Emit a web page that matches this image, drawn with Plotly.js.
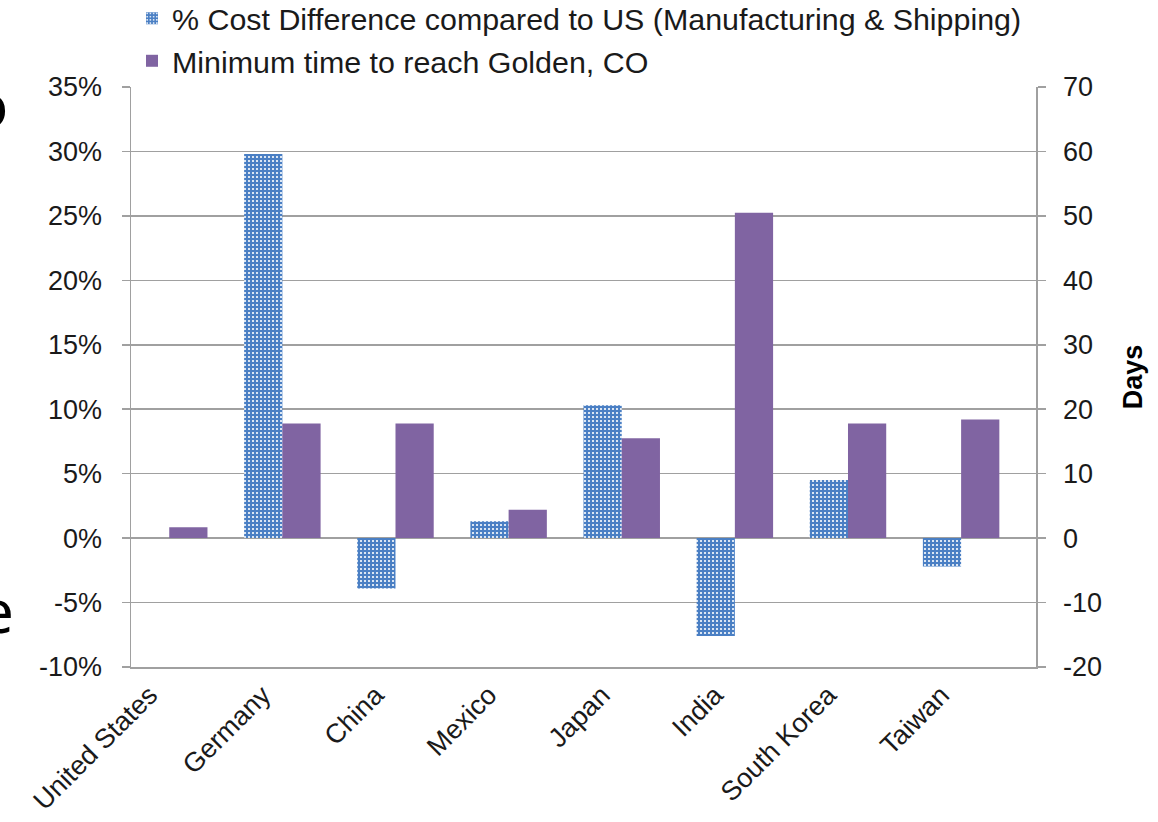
<!DOCTYPE html>
<html>
<head>
<meta charset="utf-8">
<script src="https://cdn.plot.ly/plotly-3.0.1.min.js"></script>
<style>
html,body{margin:0;padding:0;background:#fff;}
#chart{width:1158px;height:822px;}
</style>
</head>
<body>
<div id="chart"></div>
<script>
const categories = ["United States","Germany","China","Mexico","Japan","India","South Korea","Taiwan"];
const costDiff = [0, 29.8, -3.9, 1.3, 10.3, -7.6, 4.5, -2.2];      // %
const minDays  = [1.7, 17.8, 17.8, 4.4, 15.5, 50.5, 17.8, 18.4];   // days
const seriesNames = ["% Cost Difference compared to US (Manufacturing & Shipping)", "Minimum time to reach Golden, CO"];
const leftTicks  = [-10, -5, 0, 5, 10, 15, 20, 25, 30, 35];
const rightTicks = [-20, -10, 0, 10, 20, 30, 40, 50, 60, 70];

const idx = categories.map((c, i) => i);
const bounds = categories.concat([""]).map((c, i) => i - 0.5);
const FONT = "Liberation Sans, Arial, sans-serif";
const GRID = "#a0a0a0";
const BW = 0.338;

const traces = [
  {
    type: "bar", name: seriesNames[0], x: idx, y: costDiff,
    xaxis: "x", yaxis: "y", legendgroup: "a",
    width: BW, offset: -0.5,
    marker: {
      color: "#4f81bd",
      pattern: {shape: ".", fgcolor: "#ffffff", bgcolor: "#4a7fc4", size: 4, solidity: 0.22, fillmode: "replace"},
      line: {width: 0}
    },
    hoverinfo: "y"
  },
  {
    type: "bar", name: seriesNames[1], x: idx, y: minDays,
    xaxis: "x", yaxis: "y2", legendgroup: "b",
    width: BW, offset: -0.5 + BW,
    marker: {color: "#8064a2", line: {width: 0}},
    hoverinfo: "y"
  }
];

const L = 131, R = 122, T = 87, B = 155;
const plotW = 1158 - L - R, plotH = 822 - T - B;

const layout = {
  width: 1158, height: 822,
  margin: {l: L, r: R, t: T, b: B, pad: 0, autoexpand: false},
  paper_bgcolor: "#ffffff", plot_bgcolor: "#ffffff",
  barmode: "overlay",
  showlegend: true,
  font: {family: FONT, size: 27, color: "#1a1a1a"},
  legend: {
    xref: "paper", yref: "paper",
    x: (132 - L) / plotW, xanchor: "left",
    y: 1 + (T + 8) / plotH, yanchor: "top",
    font: {family: FONT, size: 30.4, color: "#1a1a1a"},
    bgcolor: "rgba(0,0,0,0)", tracegroupgap: 0, itemwidth: 30
  },
  xaxis: {
    range: [-0.5, categories.length - 0.5],
    tickmode: "array", tickvals: idx, ticktext: categories,
    tickangle: -45, ticks: "", showgrid: false, zeroline: false,
    showline: true, linecolor: GRID, linewidth: 1.5,
    tickfont: {family: FONT, size: 27, color: "#1a1a1a"},
    ticklabelshift: -38, ticklabelstandoff: 0,
    automargin: false, fixedrange: true
  },
  xaxis2: {
    overlaying: "x", anchor: "free",
    position: (0 - leftTicks[0]) / (leftTicks[leftTicks.length - 1] - leftTicks[0]),
    range: [-0.5, categories.length - 0.5],
    tickmode: "array", tickvals: bounds,
    ticks: "outside", ticklen: 9, tickwidth: 1.5, tickcolor: GRID,
    showticklabels: false, showgrid: false, zeroline: false, showline: false,
    fixedrange: true
  },
  yaxis: {
    range: [leftTicks[0], leftTicks[leftTicks.length - 1]],
    tickmode: "array", tickvals: leftTicks, ticktext: leftTicks.map(v => v + "%"),
    ticks: "outside", ticklen: 8, tickwidth: 1.5, tickcolor: GRID,
    showgrid: true, gridcolor: GRID, gridwidth: 1.5,
    zeroline: false, showline: true, linecolor: GRID, linewidth: 1.5,
    tickfont: {family: FONT, size: 27, color: "#1a1a1a"},
    ticklabelstandoff: 14, automargin: false,
    fixedrange: true
  },
  yaxis2: {
    overlaying: "y", side: "right",
    range: [rightTicks[0], rightTicks[rightTicks.length - 1]],
    tickmode: "array", tickvals: rightTicks, ticktext: rightTicks.map(v => String(v)),
    ticks: "outside", ticklen: 8, tickwidth: 1.5, tickcolor: GRID,
    showgrid: false, zeroline: false, showline: true, linecolor: GRID, linewidth: 1.5,
    tickfont: {family: FONT, size: 27, color: "#1a1a1a"},
    ticklabelstandoff: 12, automargin: false,
    title: {text: "Days", font: {family: FONT, size: 27, weight: "bold", color: "#000"}, standoff: 22},
    fixedrange: true
  },
  annotations: [
    {text: "o", xref: "paper", yref: "paper", x: (10 - L) / plotW, y: (822 - B - 104) / plotH,
     xanchor: "right", yanchor: "middle", showarrow: false,
     font: {family: "Noto Sans, sans-serif", size: 60, color: "#000"}},
    {text: "e", xref: "paper", yref: "paper", x: (16 - L) / plotW, y: (822 - B - 610) / plotH,
     xanchor: "right", yanchor: "middle", showarrow: false,
     font: {family: "Noto Sans, sans-serif", size: 60, color: "#000"}}
  ]
};

Plotly.newPlot("chart", traces, layout, {displayModeBar: false, staticPlot: true});
</script>
</body>
</html>
